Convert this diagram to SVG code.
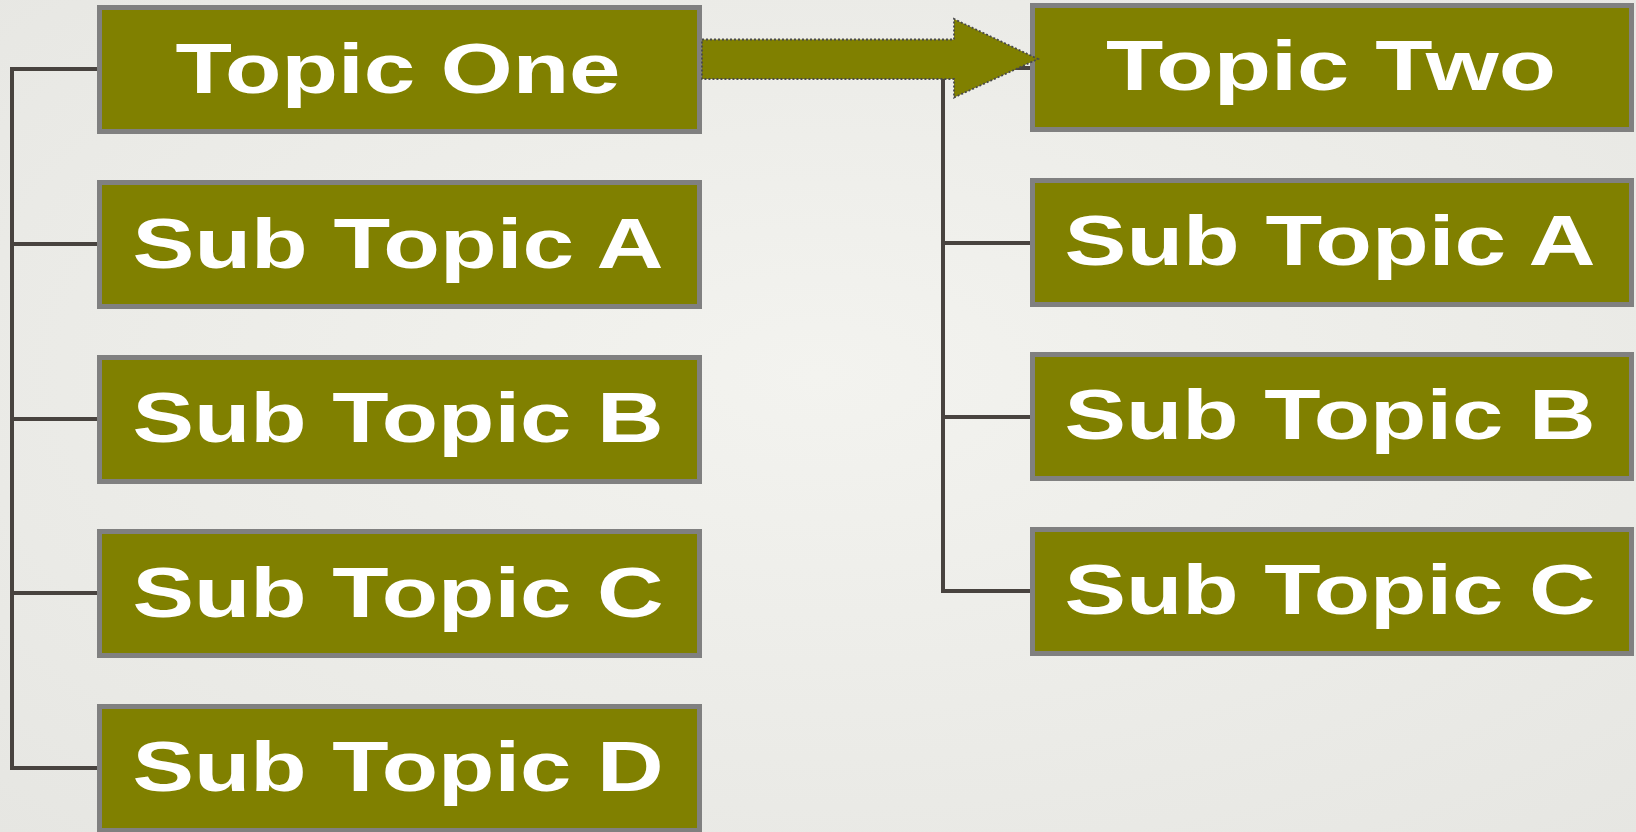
<svg xmlns="http://www.w3.org/2000/svg" width="1636" height="832" viewBox="0 0 1636 832">
<style>
.box{fill:#808000;stroke:#808080;stroke-width:5}
.lbl{fill:#ffffff;font-family:"Liberation Sans",Arial,sans-serif;font-weight:bold;font-size:71px;text-anchor:middle}
.tree{fill:none;stroke:#48433f;stroke-width:4;stroke-linejoin:miter}
.arrow{fill:#808000;stroke:#4a4a4a;stroke-width:1.8;stroke-dasharray:2 2}
</style>
<defs>
<radialGradient id="bg" cx="50%" cy="45%" r="75%">
<stop offset="0" stop-color="#f3f3ef"/>
<stop offset="1" stop-color="#e6e6e2"/>
</radialGradient>
</defs>
<rect x="0" y="0" width="1636" height="832" fill="url(#bg)"/>
<g id="connectors">
<path class="tree" d="M97,69 H12 V768 H97 M12,244 H97 M12,419 H97 M12,593 H97"/>
<path class="tree" d="M1030,68 H943 V591 H1030 M943,243 H1030 M943,417 H1030"/>
</g>
<g id="topic-one"><rect class="box" x="99.5" y="7.5" width="600" height="124"/><text class="lbl" x="398" y="93" textLength="445" lengthAdjust="spacingAndGlyphs">Topic One</text></g>
<g id="t1-sub-a"><rect class="box" x="99.5" y="182.5" width="600" height="124"/><text class="lbl" x="398" y="268" textLength="531" lengthAdjust="spacingAndGlyphs">Sub Topic A</text></g>
<g id="t1-sub-b"><rect class="box" x="99.5" y="357.5" width="600" height="124"/><text class="lbl" x="398" y="442" textLength="531" lengthAdjust="spacingAndGlyphs">Sub Topic B</text></g>
<g id="t1-sub-c"><rect class="box" x="99.5" y="531.5" width="600" height="124"/><text class="lbl" x="398" y="617" textLength="531" lengthAdjust="spacingAndGlyphs">Sub Topic C</text></g>
<g id="t1-sub-d"><rect class="box" x="99.5" y="706.5" width="600" height="124"/><text class="lbl" x="398" y="791" textLength="531" lengthAdjust="spacingAndGlyphs">Sub Topic D</text></g>
<g id="topic-two"><rect class="box" x="1032.5" y="5.5" width="599" height="124"/><text class="lbl" x="1331" y="90" textLength="450" lengthAdjust="spacingAndGlyphs">Topic Two</text></g>
<g id="t2-sub-a"><rect class="box" x="1032.5" y="180.5" width="599" height="124"/><text class="lbl" x="1330" y="265" textLength="531" lengthAdjust="spacingAndGlyphs">Sub Topic A</text></g>
<g id="t2-sub-b"><rect class="box" x="1032.5" y="354.5" width="599" height="124"/><text class="lbl" x="1330" y="439" textLength="531" lengthAdjust="spacingAndGlyphs">Sub Topic B</text></g>
<g id="t2-sub-c"><rect class="box" x="1032.5" y="529.5" width="599" height="124"/><text class="lbl" x="1330" y="614" textLength="531" lengthAdjust="spacingAndGlyphs">Sub Topic C</text></g>
<g id="arrow-connector">
<path class="arrow" d="M702,39.5 H954 V19 L1038,59 L954,97.5 V79 H702 Z"/>
</g>
</svg>
